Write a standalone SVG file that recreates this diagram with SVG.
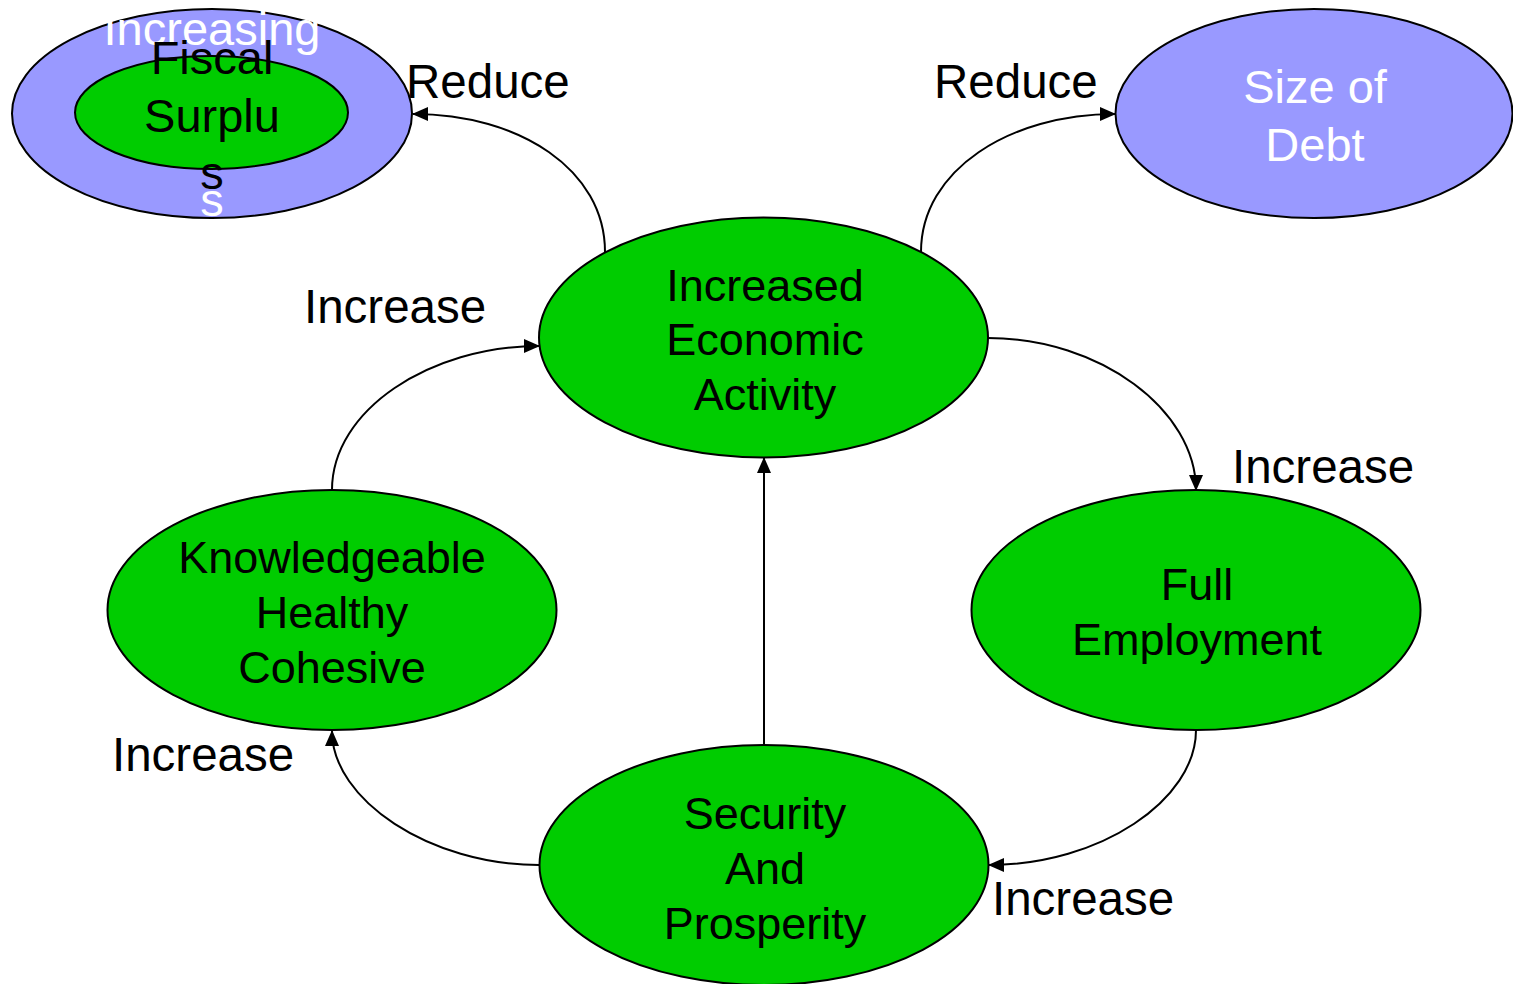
<svg xmlns="http://www.w3.org/2000/svg" width="1513" height="984" viewBox="0 0 1513 984">
<style>
.green{fill:#00CC00;stroke:#000;stroke-width:2}
.blue{fill:#9999FF;stroke:#000;stroke-width:2}
text{font-family:"Liberation Sans",Arial,sans-serif;}
.nt{font-size:45px;fill:#000;text-anchor:middle}
.bt{font-size:47px;fill:#fff;text-anchor:middle}
.ft{font-size:47px;fill:#000;text-anchor:middle}
.lbl{font-size:47.5px;fill:#000}
.conn path{fill:none;stroke:#000;stroke-width:2}
</style>
<defs>
<marker id="arr" markerUnits="userSpaceOnUse" markerWidth="16" markerHeight="14" refX="15" refY="7" orient="auto">
<path d="M0,0 L16,7 L0,14 Z" fill="#000"/>
</marker>
</defs>
<g id="fiscal-surplus">
<ellipse class="blue" cx="212" cy="113.5" rx="200" ry="104.5"/>
<text class="bt" x="212" y="45">Increasing</text>
<text class="bt" x="212" y="216">s</text>
<ellipse class="green" cx="211.5" cy="112.5" rx="136.5" ry="56.5"/>
<text class="ft" x="212" y="74">Fiscal</text>
<text class="ft" x="212" y="132">Surplu</text>
<text class="ft" x="212" y="189">s</text>
</g>
<g id="size-of-debt">
<ellipse class="blue" cx="1314" cy="113.5" rx="198.5" ry="104.5"/>
<text class="bt" x="1315" y="103">Size of</text>
<text class="bt" x="1315" y="161">Debt</text>
</g>
<g id="economic-activity">
<ellipse class="green" cx="763.5" cy="337.5" rx="224.5" ry="120"/>
<text class="nt" x="765" y="301">Increased</text>
<text class="nt" x="765" y="355">Economic</text>
<text class="nt" x="765" y="410">Activity</text>
</g>
<g id="full-employment">
<ellipse class="green" cx="1196" cy="610" rx="224.5" ry="120"/>
<text class="nt" x="1197" y="600">Full</text>
<text class="nt" x="1197" y="655">Employment</text>
</g>
<g id="knowledgeable">
<ellipse class="green" cx="332" cy="610" rx="224.5" ry="120"/>
<text class="nt" x="332" y="573">Knowledgeable</text>
<text class="nt" x="332" y="628">Healthy</text>
<text class="nt" x="332" y="683">Cohesive</text>
</g>
<g id="security">
<ellipse class="green" cx="764" cy="865" rx="224.5" ry="120"/>
<text class="nt" x="765" y="829">Security</text>
<text class="nt" x="765" y="884">And</text>
<text class="nt" x="765" y="939">Prosperity</text>
</g>
<g id="connectors" class="conn">
<path d="M605,252 C605,170 520,114 413,114" marker-end="url(#arr)"/>
<path d="M921,252 C921,170 1010,114 1115,114" marker-end="url(#arr)"/>
<path d="M988,338 C1100,338 1196,410 1196,490" marker-end="url(#arr)"/>
<path d="M1196,730 C1196,800 1100,865 989,865" marker-end="url(#arr)"/>
<path d="M539,865 C430,865 332,800 332,731" marker-end="url(#arr)"/>
<path d="M332,490 C332,410 430,346 539,346" marker-end="url(#arr)"/>
<path d="M764,745 L764,458" marker-end="url(#arr)"/>
</g>
<g id="labels">
<text class="lbl" x="406" y="98">Reduce</text>
<text class="lbl" x="934" y="98">Reduce</text>
<text class="lbl" x="304" y="323">Increase</text>
<text class="lbl" x="1232" y="483">Increase</text>
<text class="lbl" x="112" y="771">Increase</text>
<text class="lbl" x="992" y="915">Increase</text>
</g>
</svg>
